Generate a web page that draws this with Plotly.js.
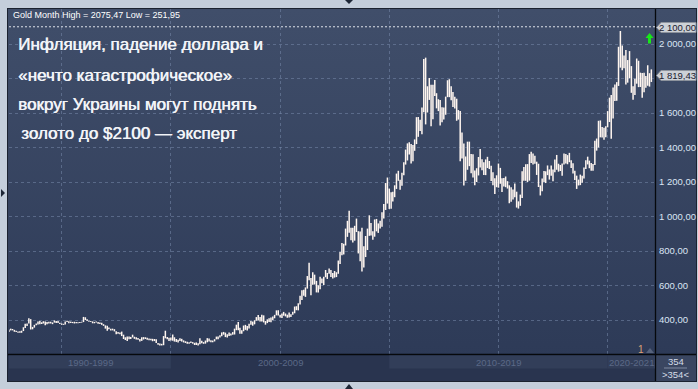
<!DOCTYPE html>
<html><head><meta charset="utf-8">
<script src="https://cdn.plot.ly/plotly-3.0.1.min.js"></script>
<style>
html,body{margin:0;padding:0;width:698px;height:389px;overflow:hidden;background:#c4cedb;}
#panel{position:absolute;left:7px;top:8px;width:690px;height:374px;background:linear-gradient(#404e6a,#2c3956);box-sizing:border-box;border:1px solid #1b2230;}
#chart{position:absolute;left:0;top:0;width:698px;height:389px;}
</style></head>
<body><div id="panel"></div><div id="chart"></div>
<script>
// ---- data (monthly gold High / Low, Aug 1992 .. Jan 2022) ----
const startYear = 1992, startMonth = 8;
const highs = [
 345,350,348,343,338,
 333,335,338,358,378,380,410,405,360,372,380,392,
 395,387,393,391,388,390,390,386,398,395,395,384,
 380,378,392,396,393,391,389,390,388,387,389,390,
 418,416,404,396,394,392,389,392,389,386,384,376,
 369,367,357,349,350,347,335,330,328,333,315,300,
 305,304,302,315,303,300,296,290,300,301,300,297,
 293,291,291,290,289,267,264,262,307,338,302,297,
 299,316,300,290,285,294,291,282,277,274,271,275,
 272,268,270,265,295,280,272,281,295,293,283,281,
 289,304,304,311,328,331,327,317,328,322,330,350,
 373,389,355,341,368,372,365,379,395,391,399,417,
 429,417,430,427,394,404,410,414,420,430,456,456,
 430,438,447,438,431,443,433,448,478,480,497,540,
 572,575,589,655,732,644,677,663,627,602,651,641,
 651,690,673,699,690,673,684,677,745,795,846,842,
 930,975,1033,935,935,946,988,915,913,935,828,887,
 930,1007,962,915,983,986,960,975,1025,1072,1194,1226,
 1162,1141,1143,1181,1249,1265,1213,1254,1315,1388,1424,1431,
 1421,1414,1447,1576,1577,1561,1632,1913,1921,1755,1803,1764,
 1764,1791,1715,1680,1676,1633,1632,1695,1790,1796,1755,1722,
 1694,1683,1617,1612,1487,1424,1348,1434,1434,1362,1361,1267,
 1280,1345,1392,1332,1315,1331,1346,1322,1294,1256,1222,1239,
 1307,1282,1222,1224,1232,1205,1181,1170,1157,1191,1144,1088,
 1127,1263,1287,1303,1304,1362,1375,1366,1352,1318,1306,1180,
 1220,1264,1262,1296,1273,1296,1272,1331,1357,1306,1299,1308,
 1366,1362,1356,1369,1326,1309,1266,1237,1214,1243,1237,1284,
 1326,1347,1324,1310,1305,1439,1452,1555,1557,1519,1515,1524,
 1611,1689,1704,1748,1765,1779,1984,2075.47,1992,1933,1966,1907,
 1959,1872,1755,1798,1916,1903,1834,1832,1834,1814,1877,1831,
 1853
];
const lows = [
 330,340,340,332,330,
 326,326,326,336,354,366,380,345,346,356,369,374,
 375,377,380,369,376,380,380,376,385,383,383,377,
 372,372,374,389,381,383,382,380,381,381,382,385,
 388,400,395,390,389,381,381,386,379,377,372,366,
 350,338,346,339,340,334,318,320,318,307,290,284,
 278,289,290,299,291,287,285,276,279,287,290,286,
 283,282,277,278,267,257,251.95,252.5,254,294,288,278,
 281,280,275,273,270,278,275,270,267,263,263,267,
 263,255,255,253,260,266,262,263,271,276,271,271,
 276,288,288,298,306,315,301,299,308,310,315,316,
 341,340,321,320,335,343,339,351,372,367,375,396,
 397,392,391,386,373,382,388,387,399,410,427,426,
 415,411,425,421,413,415,418,430,439,457,456,490,
 516,540,534,582,630,543,605,606,560,560,578,613,
 603,648,638,668,650,640,646,649,668,725,775,780,
 832,882,906,863,850,860,910,786,741,681,705,765,
 806,888,890,865,883,914,905,930,941,988,1038,1075,
 1044,1045,1087,1112,1160,1207,1155,1179,1239,1301,1325,1360,
 1308,1321,1381,1420,1462,1496,1477,1604,1534,1603,1676,1523,
 1564,1699,1627,1611,1527,1547,1563,1590,1692,1692,1674,1635,
 1626,1555,1562,1321,1337,1180,1207,1271,1292,1251,1226,1181,
 1200,1238,1284,1268,1240,1240,1281,1275,1206,1181,1131,1170,
 1167,1190,1142,1174,1170,1162,1077,1085,1098,1111,1052,1046,
 1062,1107,1208,1207,1200,1208,1310,1302,1306,1241,1171,1122,
 1146,1200,1194,1240,1214,1236,1205,1257,1271,1260,1264,1236,
 1301,1307,1303,1315,1281,1250,1211,1160,1180,1182,1196,1221,
 1276,1302,1280,1266,1266,1298,1382,1400,1459,1458,1445,1459,
 1517,1548,1451,1568,1670,1671,1757,1863,1848,1860,1765,1776,
 1802,1717,1677,1705,1770,1750,1751,1688,1721,1746,1758,1753,
 1780
];
const yTickVals = [400,600,800,1000,1200,1400,1600,1800,2000];
const yTickText = ['400,00','600,00','800,00','1 000,00','1 200,00','1 400,00','1 600,00','','2 000,00'];
const xGridYears = ['1995-01-01','2000-01-01','2005-01-01','2010-01-01','2015-01-01','2020-01-01'];
const decadeLabels = ['1990-1999','2000-2009','2010-2019','2020-2021'];
const decadeStarts = ['1992-08-03','2000-01-01','2010-01-01','2020-01-01'];
const decadeEnds   = ['2000-01-01','2010-01-01','2020-01-01','2022-03-03'];
const headerText = 'Gold Month High = 2075,47 Low = 251,95';
const headline = ['Инфляция, падение доллара и','«нечто катастрофическое»','вокруг Украины могут поднять','золото до $2100 — эксперт'];
const lastPrice = 1819.43, lastPriceText = '1 819,43';
const targetPrice = 2100, targetPriceText = '2 100,00';
const barCount = '354', barCountSel = '>354<';

// ---- build bar segments ----
function monthStr(i){
  const d = new Date(Date.UTC(startYear, startMonth-1+i, 1));
  return d.getUTCFullYear()+'-'+String(d.getUTCMonth()+1).padStart(2,'0')+'-01';
}
const xs=[], ys=[];
for(let i=0;i<highs.length;i++){
  const m = monthStr(i);
  xs.push(m,m,null); ys.push(lows[i],highs[i],null);
}

// pixel -> paper helpers (plot area 9..655 x 9..354)
const L=9,R=655,T=9,B=354;
const px = x => (x-L)/(R-L);
const py = y => (B-y)/(B-T);
const FONT = 'Liberation Sans, Arial, sans-serif';

const shapes = [
  {type:'rect',xref:'paper',yref:'paper',x0:px(8),x1:px(696),y0:py(381),y1:py(354),fillcolor:'#29344f',line:{width:0},layer:'above'},
  {type:'rect',xref:'paper',yref:'paper',x0:px(656),x1:px(696),y0:py(381),y1:py(355),fillcolor:'#3a4661',line:{width:0},layer:'above'},
  {type:'line',xref:'paper',yref:'paper',x0:px(8),x1:px(696),y0:py(354.5),y1:py(354.5),line:{color:'#06080c',width:1.6},layer:'above'},
  {type:'line',xref:'paper',yref:'paper',x0:px(655.5),x1:px(655.5),y0:py(9),y1:py(381),line:{color:'#06080c',width:1.3},layer:'above'},
  {type:'line',xref:'paper',yref:'paper',x0:px(664),x1:px(687),y0:py(368),y1:py(368),line:{color:'#7e8aa2',width:1},layer:'above'},
  {type:'line',xref:'paper',yref:'y',x0:0,x1:1,y0:targetPrice,y1:targetPrice,line:{color:'#dfe3ea',width:1,dash:'2px,2px'},layer:'above'},
  {type:'path',xref:'paper',yref:'paper',
   path:`M ${px(649.5)},${py(33)} L ${px(653.5)},${py(38)} L ${px(651)},${py(38)} L ${px(651)},${py(43.5)} L ${px(648)},${py(43.5)} L ${px(648)},${py(38)} L ${px(645.5)},${py(38)} Z`,
   fillcolor:'#18e818',line:{width:0},layer:'above'},
  {type:'path',xref:'paper',yref:'paper',path:`M ${px(646)},${py(353)} L ${px(654)},${py(353)} L ${px(650)},${py(348)} Z`,fillcolor:'#56627c',line:{width:0},layer:'above'},
  {type:'path',xref:'paper',yref:'paper',path:`M ${px(345)},${py(0)} L ${px(353)},${py(0)} L ${px(349)},${py(4)} Z`,fillcolor:'#1d2636',line:{width:0},layer:'above'},
  {type:'path',xref:'paper',yref:'paper',path:`M ${px(345)},${py(389)} L ${px(353)},${py(389)} L ${px(349)},${py(384)} Z`,fillcolor:'#1d2636',line:{width:0},layer:'above'},
  {type:'path',xref:'paper',yref:'paper',path:`M ${px(1)},${py(189)} L ${px(1)},${py(197)} L ${px(5)},${py(193)} Z`,fillcolor:'#1d2636',line:{width:0},layer:'above'}
];
for(let k=0;k<decadeLabels.length;k++){
  if(k===1) continue;
  shapes.push({type:'rect',xref:'x',yref:'paper',x0:decadeStarts[k],x1:decadeEnds[k],y0:py(368.5),y1:py(355.5),
    fillcolor:'#323e59',line:{width:0},layer:'above'});
}
function priceBox(yc){
  return {type:'path',xref:'paper',yref:'paper',
    path:`M ${px(656.5)},${py(yc)} L ${px(661)},${py(yc-5)} L ${px(696)},${py(yc-5)} L ${px(696)},${py(yc+5)} L ${px(661)},${py(yc+5)} Z`,
    fillcolor:'#cdd1d7',line:{color:'#8d939d',width:1},layer:'above'};
}
shapes.push(priceBox(27.5), priceBox(75.5));

const annotations = [
  {text:headerText,xref:'paper',yref:'paper',x:px(10.5),y:py(15),xanchor:'left',yanchor:'middle',showarrow:false,font:{family:FONT,size:9,color:'#ffffff'}},
  {text:targetPriceText,xref:'paper',yref:'paper',x:px(677),y:py(27.5),xanchor:'center',yanchor:'middle',showarrow:false,font:{family:FONT,size:9.5,color:'#1a2030'}},
  {text:lastPriceText,xref:'paper',yref:'paper',x:px(677),y:py(75.5),xanchor:'center',yanchor:'middle',showarrow:false,font:{family:FONT,size:9.5,color:'#1a2030'}},
  {text:'1',xref:'paper',yref:'paper',x:px(641),y:py(349),xanchor:'center',yanchor:'middle',showarrow:false,font:{family:FONT,size:10,color:'#dba274'}},
  {text:barCount,xref:'paper',yref:'paper',x:px(675.5),y:py(361.5),xanchor:'center',yanchor:'middle',showarrow:false,font:{family:FONT,size:9.5,color:'#d4dce8'}},
  {text:barCountSel,xref:'paper',yref:'paper',x:px(675.5),y:py(374),xanchor:'center',yanchor:'middle',showarrow:false,font:{family:FONT,size:9.5,color:'#d4dce8'}}
];
const headY=[45,75,104,133], headX=[15.5,15.5,15.5,18.5];
headline.forEach((t,i)=>annotations.push({text:t,xref:'paper',yref:'paper',x:px(headX[i]),y:py(headY[i]),xanchor:'left',yanchor:'middle',showarrow:false,
  font:{family:FONT,size:17,color:'#f2f4f8',shadow:'0.6px 0 0 #f2f4f8'}}));
const decadeCenters=[90,280,498.5,631.5];
decadeLabels.forEach((t,i)=>annotations.push({text:t,xref:'paper',yref:'paper',x:px(decadeCenters[i]),y:py(362),xanchor:'center',yanchor:'middle',showarrow:false,
  font:{family:FONT,size:9.5,color:'#5b6987'}}));

const trace = {type:'scatter',mode:'lines',x:xs,y:ys,connectgaps:false,line:{color:'#fff6f0',width:1.5},hoverinfo:'skip'};

const grid = 'rgba(118,136,170,0.55)';
const layout = {
  width:698,height:389,
  margin:{l:L,r:698-R,t:T,b:389-B,pad:0},
  paper_bgcolor:'rgba(0,0,0,0)',plot_bgcolor:'rgba(0,0,0,0)',
  showlegend:false,hovermode:false,
  xaxis:{type:'date',range:['1992-08-03','2022-03-03'],tickvals:xGridYears,showticklabels:false,ticks:'',
    showgrid:true,gridcolor:grid,griddash:'3px,3px',gridwidth:1,zeroline:false,showline:false,fixedrange:true},
  yaxis:{side:'right',range:[203,2203],tickvals:yTickVals,ticktext:yTickText,ticks:'',ticklabelstandoff:3,
    tickfont:{family:FONT,size:9.5,color:'#dbe5f4'},showgrid:true,gridcolor:grid,griddash:'3px,3px',gridwidth:1,
    zeroline:false,showline:false,fixedrange:true},
  shapes:shapes,annotations:annotations
};
Plotly.newPlot('chart',[trace],layout,{staticPlot:true,displayModeBar:false});
</script></body></html>
